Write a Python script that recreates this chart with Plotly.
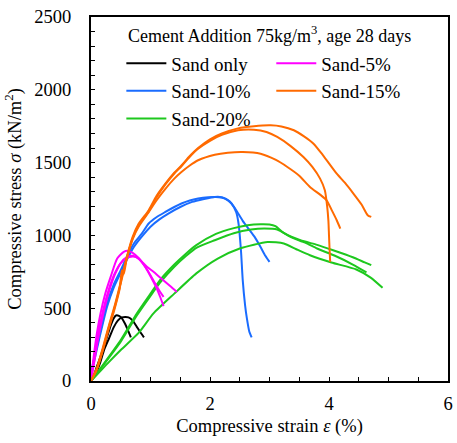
import plotly.graph_objects as go

# ---- data (strain %, stress kN/m2) ----
sand0_a_x = [0, 0.05, 0.10, 0.16, 0.22, 0.27, 0.33, 0.38, 0.42, 0.47, 0.52, 0.57, 0.62, 0.67]
sand0_a_y = [0, 40, 100, 167, 240, 304, 380, 430, 450, 447, 430, 395, 350, 300]
sand0_b_x = [0, 0.08, 0.15, 0.22, 0.30, 0.385, 0.45, 0.52, 0.58, 0.63, 0.70, 0.77, 0.83, 0.89]
sand0_b_y = [0, 50, 120, 213, 290, 372, 415, 437, 440, 437, 415, 372, 335, 300]

sand5_a_x = [0, 0.04, 0.10, 0.16, 0.24, 0.33, 0.44, 0.55, 0.62, 0.70, 0.80, 0.90, 1.00, 1.10, 1.17, 1.22]
sand5_a_y = [0, 150, 330, 464, 600, 715, 841, 887, 894, 880, 845, 790, 720, 640, 570, 514]
sand5_b_x = [0, 0.05, 0.12, 0.20, 0.30, 0.40, 0.50, 0.60, 0.70, 0.77, 0.85, 0.95, 1.05, 1.15, 1.22]
sand5_b_y = [0, 150, 330, 480, 630, 740, 810, 845, 855, 850, 820, 760, 690, 620, 578]
sand5_c_x = [0, 0.05, 0.12, 0.20, 0.30, 0.40, 0.50, 0.60, 0.70, 0.80, 0.94, 1.05, 1.15, 1.25, 1.35, 1.44]
sand5_c_y = [0, 120, 290, 450, 610, 730, 810, 850, 860, 840, 784, 750, 715, 680, 645, 612]

sand10_a_x = [0, 0.05, 0.15, 0.27, 0.38, 0.50, 0.60, 0.72, 0.85, 0.97, 1.10, 1.25, 1.40, 1.52, 1.66,
              1.80, 1.97, 2.10, 2.25, 2.36, 2.44, 2.48, 2.52, 2.55, 2.59, 2.62, 2.66, 2.70]
sand10_a_y = [60, 150, 330, 533, 660, 761, 850, 944, 1010, 1082, 1125, 1161, 1195, 1219, 1240,
              1253, 1262, 1264, 1253, 1219, 1160, 1080, 900, 693, 520, 430, 340, 300]
sand10_b_x = [0, 0.05, 0.15, 0.27, 0.38, 0.50, 0.60, 0.72, 0.85, 1.00, 1.15, 1.30, 1.50, 1.70, 1.90,
              2.08, 2.20, 2.33, 2.43, 2.55, 2.65, 2.75, 2.85, 2.93, 3.00]
sand10_b_y = [40, 130, 310, 510, 640, 745, 830, 920, 990, 1060, 1110, 1150, 1195, 1230, 1250,
              1264, 1262, 1235, 1180, 1100, 1045, 990, 920, 860, 818]

sand15_a_x = [0, 0.10, 0.20, 0.30, 0.40, 0.50, 0.60, 0.70, 0.80, 0.97, 1.10, 1.25, 1.40, 1.52, 1.66,
              1.80, 2.00, 2.20, 2.47, 2.74, 3.02, 3.20, 3.41, 3.58, 3.74, 3.90, 4.13, 4.27, 4.41,
              4.55, 4.65, 4.71]
sand15_a_y = [0, 90, 230, 380, 520, 680, 850, 990, 1080, 1173, 1270, 1355, 1430, 1480, 1545,
              1600, 1660, 1700, 1735, 1750, 1756, 1748, 1722, 1680, 1630, 1550, 1424, 1360, 1287,
              1210, 1139, 1127]
sand15_b_x = [0, 0.10, 0.20, 0.30, 0.40, 0.50, 0.60, 0.70, 0.80, 0.97, 1.10, 1.25, 1.40, 1.52, 1.66,
              1.80, 2.00, 2.20, 2.47, 2.74, 2.95, 3.13, 3.35, 3.57, 3.72, 3.85, 3.93, 3.97, 3.99,
              4.00, 4.01, 4.02]
sand15_b_y = [0, 85, 220, 370, 510, 670, 840, 980, 1070, 1165, 1260, 1350, 1425, 1475, 1540,
              1595, 1650, 1690, 1722, 1726, 1710, 1676, 1615, 1538, 1470, 1390, 1310, 1196, 1100,
              1000, 900, 818]
sand15_c_x = [0, 0.10, 0.20, 0.30, 0.40, 0.48, 0.52, 0.55, 0.60, 0.70, 0.80, 0.97, 1.10, 1.25, 1.40,
              1.52, 1.66, 1.80, 2.08, 2.30, 2.55, 2.85, 3.10, 3.30, 3.50, 3.68, 3.85, 3.96, 4.05,
              4.13, 4.19]
sand15_c_y = [0, 80, 210, 360, 500, 630, 760, 735, 840, 975, 1060, 1160, 1240, 1320, 1390,
              1435, 1480, 1516, 1554, 1568, 1573, 1561, 1520, 1470, 1410, 1333, 1280, 1241, 1170,
              1104, 1047]

sand20_a_x = [0, 0.20, 0.50, 0.77, 1.00, 1.16, 1.40, 1.60, 1.77, 2.10, 2.40, 2.63, 2.85, 3.00, 3.10,
              3.24, 3.52, 3.80, 4.07, 4.40, 4.60, 4.71]
sand20_a_y = [0, 110, 281, 464, 600, 693, 800, 876, 933, 1010, 1050, 1070, 1077, 1075, 1063,
              1017, 967, 935, 898, 850, 815, 796]
sand20_b_x = [0, 0.20, 0.50, 0.77, 1.00, 1.16, 1.40, 1.60, 1.77, 2.08, 2.40, 2.69, 2.91, 3.13, 3.35,
              3.60, 3.80, 4.10, 4.40, 4.63]
sand20_b_y = [0, 105, 270, 450, 585, 675, 785, 860, 915, 967, 1015, 1040, 1047, 1040, 990,
              950, 910, 860, 800, 746]
sand20_c_x = [0, 0.30, 0.50, 0.80, 1.05, 1.40, 1.77, 2.13, 2.50, 2.97, 3.24, 3.45, 3.68, 4.04, 4.46,
              4.70, 4.90]
sand20_c_y = [0, 130, 213, 330, 464, 600, 739, 841, 910, 955, 944, 905, 864, 814, 766,
              710, 640]

series = [
    ("Sand only", "#000000", "legend", [(sand0_a_x, sand0_a_y), (sand0_b_x, sand0_b_y)]),
    ("Sand-10%", "#1a6cff", "legend", [(sand10_a_x, sand10_a_y), (sand10_b_x, sand10_b_y)]),
    ("Sand-20%", "#1ec81e", "legend", [(sand20_a_x, sand20_a_y), (sand20_b_x, sand20_b_y), (sand20_c_x, sand20_c_y)]),
    ("Sand-5%", "#ff00ff", "legend2", [(sand5_a_x, sand5_a_y), (sand5_b_x, sand5_b_y), (sand5_c_x, sand5_c_y)]),
    ("Sand-15%", "#ff6a00", "legend2", [(sand15_a_x, sand15_a_y), (sand15_b_x, sand15_b_y), (sand15_c_x, sand15_c_y)]),
]

FONT = "Liberation Serif"

fig = go.Figure()
for nm, col, leg, curves in series:
    for i, (xs, ys) in enumerate(curves):
        fig.add_trace(go.Scatter(
            x=xs, y=ys, mode="lines", name=nm, legendgroup=nm,
            showlegend=(i == 0), legend=leg,
            line=dict(color=col, width=2, shape="spline", smoothing=0.6),
        ))

axis_common = dict(
    showline=True, linecolor="black", linewidth=2, mirror=True,
    ticks="inside", ticklen=4, tickcolor="black", tickwidth=1,
    showgrid=False, zeroline=False,
    tickfont=dict(family=FONT, size=18.5, color="black"),
)

fig.update_xaxes(
    range=[0, 6], dtick=2, tick0=0,
    minor=dict(dtick=0.5, ticks="inside", ticklen=4, tickcolor="black", showgrid=False),
    title=dict(text="Compressive strain <i>ε</i> (%)", font=dict(family=FONT, size=18.5, color="black"), standoff=6),
    ticklabelstandoff=5,
    **axis_common,
)
fig.update_yaxes(
    range=[0, 2500], dtick=500, tick0=0,
    minor=dict(dtick=100, ticks="inside", ticklen=4, tickcolor="black", showgrid=False),
    title=dict(text="Compressive stress <i>σ</i> (kN/m<sup>2</sup>)", font=dict(family=FONT, size=18.5, color="black"), standoff=8),
    ticklabelstandoff=14,
    **axis_common,
)

leg_common = dict(
    font=dict(family=FONT, size=19, color="black"),
    bgcolor="rgba(0,0,0,0)", borderwidth=0,
    xanchor="left", yanchor="top", itemwidth=40,
    traceorder="normal", tracegroupgap=0,
)
fig.update_layout(
    width=457, height=443,
    margin=dict(l=91, r=4, t=17, b=62),
    paper_bgcolor="white", plot_bgcolor="white",
    font=dict(family=FONT, color="black"),
    legend=dict(x=0.085, y=0.925, **leg_common),
    legend2=dict(x=0.505, y=0.925, **leg_common),
    annotations=[dict(
        text="Cement Addition 75kg/m<sup>3</sup>, age 28 days",
        xref="paper", yref="paper", x=0.5, y=0.952, xanchor="center", yanchor="middle",
        showarrow=False, font=dict(family=FONT, size=18, color="black"),
    )],
)

fig.write_html("out.html", config={"displayModeBar": False},
               post_script="document.body.style.margin='0';")
